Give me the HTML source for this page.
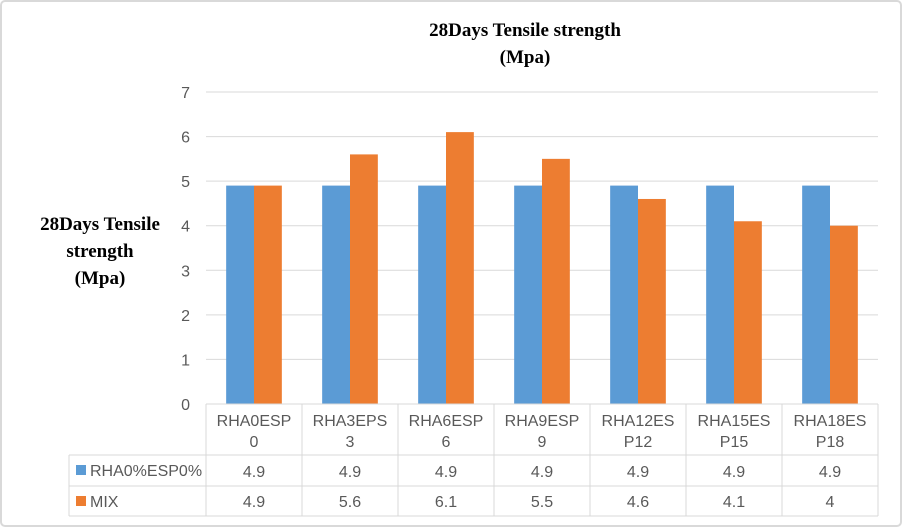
<!DOCTYPE html>
<html><head><meta charset="utf-8"><style>
body{margin:0;background:#fff}
svg text{font-family:"Liberation Sans",sans-serif}
</style></head><body>
<svg width="902" height="527" xmlns="http://www.w3.org/2000/svg">
<rect x="1" y="1" width="900" height="525" rx="4" fill="#fff" stroke="#d9d9d9" stroke-width="2"/>
<text x="525" y="36" text-anchor="middle" font-family="Liberation Serif" font-weight="bold" font-size="19" style="font-family:'Liberation Serif',serif">28Days Tensile   strength</text>
<text x="525" y="63" text-anchor="middle" font-weight="bold" font-size="19" style="font-family:'Liberation Serif',serif">(Mpa)</text>
<g font-weight="bold" font-size="19" style="font-family:'Liberation Serif',serif" text-anchor="middle">
<text x="100" y="230" style="font-family:'Liberation Serif',serif">28Days Tensile</text>
<text x="100" y="257" style="font-family:'Liberation Serif',serif">strength</text>
<text x="100" y="284" style="font-family:'Liberation Serif',serif">(Mpa)</text>
</g>
<g id="grid"></g><g id="bars"></g><g id="table"></g>
</svg>
<script>
const categories=[["RHA0ESP","0"],["RHA3EPS","3"],["RHA6ESP","6"],["RHA9ESP","9"],["RHA12ES","P12"],["RHA15ES","P15"],["RHA18ES","P18"]];
const series1=[4.9,4.9,4.9,4.9,4.9,4.9,4.9];
const series2=[4.9,5.6,6.1,5.5,4.6,4.1,4];
const seriesNames=["RHA0%ESP0%","MIX"];
const yTicks=[0,1,2,3,4,5,6,7];
const colors=["#5b9bd5","#ed7d31"];
const NS="http://www.w3.org/2000/svg";
const x0=206,x1=878,y0=404,yTop=92,yMax=7;
const cw=(x1-x0)/categories.length;
const y=v=>y0-(v/yMax)*(y0-yTop);
function mk(tag,attrs,parent,txt){const e=document.createElementNS(NS,tag);for(const k in attrs)e.setAttribute(k,attrs[k]);if(txt!==undefined)e.textContent=txt;parent.appendChild(e);return e;}
const grid=document.getElementById('grid'),bars=document.getElementById('bars'),tbl=document.getElementById('table');
yTicks.forEach(t=>{
 if(t>0){const l=mk('line',{x1:x0,x2:x1,y1:y(t),y2:y(t),stroke:'#d9d9d9'},grid);
 
 }
 const tx=mk('text',{x:190,y:y(t)+6,'text-anchor':'end','font-size':16,fill:'#595959'},grid,t);
 
 
});
const bw=cw*0.29;
[series1,series2].forEach((s,si)=>{
 s.forEach((v,i)=>{
  const cx=x0+cw*(i+0.5);
  const r=mk('rect',{x:si==0?cx-bw:cx,y:y(v),width:bw,height:y0-y(v),fill:colors[si]},bars);
  
  
 });
});
// table
const rTop=404,rA=455,rB=486,rC=516,tl=69,c="#d9d9d9";
[[x0,rTop,x1,rTop],[tl,rA,x1,rA],[tl,rB,x1,rB],[tl,rC,x1,rC],[tl,rA,tl,rC],[x1,rTop,x1,rC]].forEach(a=>mk('line',{x1:a[0],y1:a[1],x2:a[2],y2:a[3],stroke:c},tbl));
for(let i=0;i<=categories.length;i++){const xx=x0+cw*i;mk('line',{x1:xx,y1:rTop,x2:xx,y2:rC,stroke:c},tbl);}
categories.forEach((cat,i)=>{
 const cx=x0+cw*(i+0.5);
 const t1=mk('text',{x:cx,y:426,'text-anchor':'middle','font-size':16,fill:'#595959'},tbl,cat[0]);
 
 
 mk('text',{x:cx,y:447,'text-anchor':'middle','font-size':16,fill:'#595959'},tbl,cat[1]);
 const a=mk('text',{x:cx,y:477,'text-anchor':'middle','font-size':16,fill:'#595959'},tbl,series1[i]);
 
 
 const b=mk('text',{x:cx,y:507,'text-anchor':'middle','font-size':16,fill:'#595959'},tbl,series2[i]);
 
 
});
seriesNames.forEach((n,si)=>{
 const yy=si==0?470:501;
 const k=mk('rect',{x:76,y:yy-5,width:10,height:10,fill:colors[si]},tbl);
 
 
 const t=mk('text',{x:90,y:yy+6,'font-size':16,fill:'#595959'},tbl,n);
 
 
});
</script>
</body></html>
